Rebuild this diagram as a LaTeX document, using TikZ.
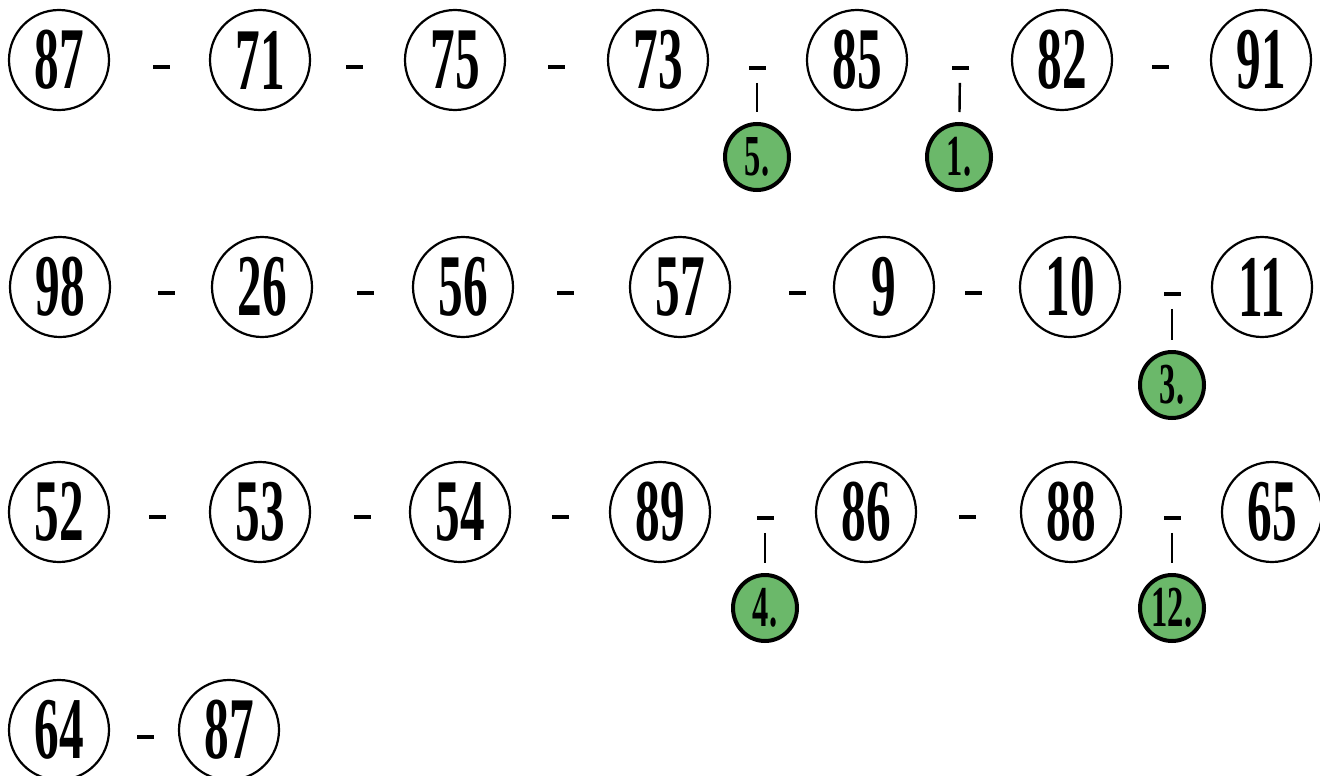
\documentclass[tikz,border=0pt]{standalone}
\usepackage{fontspec}
\usetikzlibrary{shapes.geometric}
\newfontfamily\numfont[FakeStretch=0.56]{Liberation Serif}
\definecolor{stepgreen}{HTML}{6BB86A}
\tikzset{
  num/.style={draw=black, line width=2.2pt, shape=ellipse, minimum width=100pt, minimum height=100pt, inner sep=0pt, font=\numfont\bfseries\fontsize{88}{88}\selectfont},
  bar/.style={fill=black, draw=none, minimum width=17pt, minimum height=3.4pt, inner sep=0pt},
  mark green/.style={draw=black, line width=4pt, fill=stepgreen, shape=ellipse, minimum width=64pt, minimum height=66pt, inner sep=0pt, font=\numfont\bfseries\fontsize{58}{58}\selectfont},
  link/.style={line width=2.4pt, shorten <=13pt, shorten >=10pt}
}
\begin{document}
\begin{tikzpicture}[x=1pt,y=-1pt]
\useasboundingbox (0,0) rectangle (1320,776);
% row 1
\node[num] (a1) at (59,60) {87};
\node[num] (a2) at (260,60) {71};
\node[num] (a3) at (455,60) {75};
\node[num] (a4) at (658,60) {73};
\node[num] (a5) at (857,60) {85};
\node[num] (a6) at (1062,60) {82};
\node[num] (a7) at (1261,60) {91};
\node[bar] (da1) at (161,67) {};
\node[bar] (da2) at (354,67) {};
\node[bar] (da3) at (556,67) {};
\node[bar] (da4) at (757,68) {};
\node[bar] (da5) at (960,68) {};
\node[bar] (da6) at (1160,67) {};
\node[mark green] (g5) at (757,157) {5.};
\node[mark green] (g1) at (959,157) {1.};
\draw[link] (da4) -- (g5);
\draw[link] (da5) -- (g1);
% row 2
\node[num] (b1) at (60,287) {98};
\node[num] (b2) at (262,287) {26};
\node[num] (b3) at (463,287) {56};
\node[num] (b4) at (680,287) {57};
\node[num] (b5) at (884,287) {9};
\node[num] (b6) at (1070,287) {10};
\node[num] (b7) at (1262,287) {11};
\node[bar] (db1) at (166,293) {};
\node[bar] (db2) at (365,293) {};
\node[bar] (db3) at (565,293) {};
\node[bar] (db4) at (797,293) {};
\node[bar] (db5) at (973,293) {};
\node[bar] (db6) at (1172,294) {};
\node[mark green] (g3) at (1172,385) {3.};
\draw[link] (db6) -- (g3);
% row 3
\node[num] (c1) at (59,512) {52};
\node[num] (c2) at (260,512) {53};
\node[num] (c3) at (460,512) {54};
\node[num] (c4) at (660,512) {89};
\node[num] (c5) at (866,512) {86};
\node[num] (c6) at (1071,512) {88};
\node[num] (c7) at (1272,512) {65};
\node[bar] (dc1) at (157,517) {};
\node[bar] (dc2) at (362,517) {};
\node[bar] (dc3) at (560,517) {};
\node[bar] (dc4) at (765,518) {};
\node[bar] (dc5) at (967,517) {};
\node[bar] (dc6) at (1172,518) {};
\node[mark green] (g4) at (765,608) {4.};
\node[mark green] (g12) at (1172,608) {12.};
\draw[link] (dc4) -- (g4);
\draw[link] (dc6) -- (g12);
% row 4
\node[num] (e1) at (59,730) {64};
\node[num] (e2) at (229,730) {87};
\node[bar] (de1) at (145,737) {};
\end{tikzpicture}
\end{document}
